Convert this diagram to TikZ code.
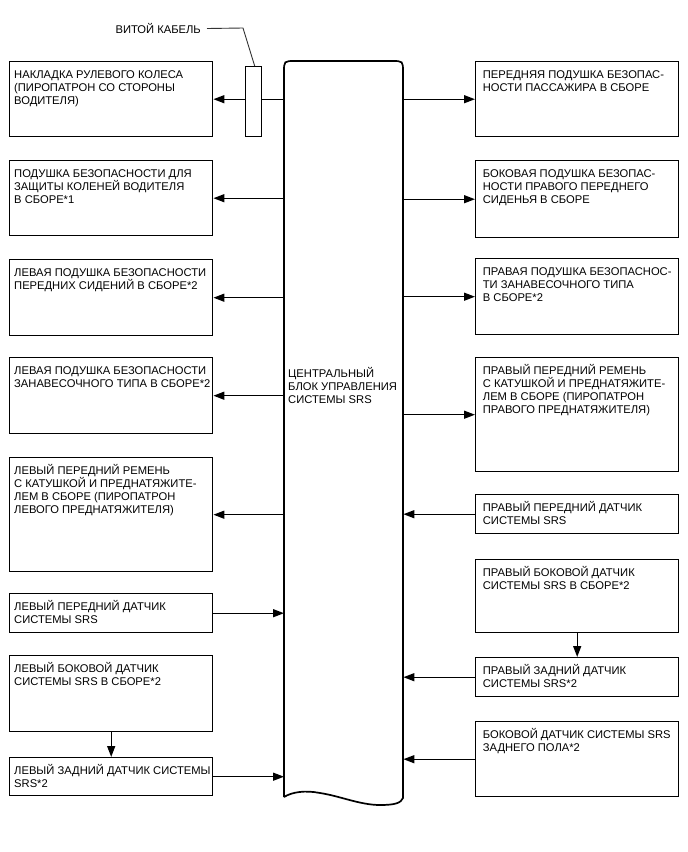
\documentclass[tikz,border=0pt]{standalone}
\usepackage{fontspec}
\setmainfont{Liberation Sans}
\usetikzlibrary{arrows.meta}
\tikzset{
  boxst/.style={draw=black, line width=1.4pt, minimum width=203pt, inner sep=0pt, fill=white},
  lbl/.style={anchor=north west, align=left, inner sep=0pt, font=\fontsize{11.2}{13}\selectfont},
  arr/.style={line width=1.4pt, -{Triangle[length=11pt,width=8pt]}},
  eculine/.style={line width=1.7pt},
  leader/.style={line width=0.9pt, draw=black!80},
}
\newcommand\bx[6]{%
  \node[boxst,minimum height=#4pt,anchor=north west] (#1) at (#2,#3) {};
  \node[lbl] (#1t) at ([shift={(#5pt,-7.3pt)}]#1.north west) {\rule{0pt}{10pt}#6};}
\begin{document}
\begin{tikzpicture}[x=1pt,y=-1pt]
\useasboundingbox[fill=white] (0,0) rectangle (688,852);
% central block
\node[draw=none, minimum width=119pt, minimum height=737pt, anchor=north west, inner sep=0pt] (ecu) at (284,61) {};
\draw[eculine] (284,797) -- (284,72) .. controls (284,61) and (284,61) .. (295,61) -- (392,61)
  .. controls (403,61) and (403,61) .. (403,72) -- (403,798)
  .. controls (401,803) and (395,805) .. (380,805)
  .. controls (360,805) and (340,796) .. (320,793)
  .. controls (305,790) and (292,792) .. (284,797);
\node[lbl] (ecut) at (288,367.5) {\rule{0pt}{10pt}ЦЕНТРАЛЬНЫЙ\\БЛОК УПРАВЛЕНИЯ\\СИСТЕМЫ SRS};
% left boxes
\bx{l1}{9}{61}{75}{5}{НАКЛАДКА РУЛЕВОГО КОЛЕСА\\(ПИРОПАТРОН СО СТОРОНЫ\\ВОДИТЕЛЯ)}
\bx{l2}{9}{160}{75}{5}{ПОДУШКА БЕЗОПАСНОСТИ ДЛЯ\\ЗАЩИТЫ КОЛЕНЕЙ ВОДИТЕЛЯ\\В СБОРЕ*1}
\bx{l3}{9}{259}{76}{5}{ЛЕВАЯ ПОДУШКА БЕЗОПАСНОСТИ\\ПЕРЕДНИХ СИДЕНИЙ В СБОРЕ*2}
\bx{l4}{9}{357}{76}{5}{ЛЕВАЯ ПОДУШКА БЕЗОПАСНОСТИ\\ЗАНАВЕСОЧНОГО ТИПА В СБОРЕ*2}
\bx{l5}{9}{457}{114}{5}{ЛЕВЫЙ ПЕРЕДНИЙ РЕМЕНЬ\\С КАТУШКОЙ И ПРЕДНАТЯЖИТЕ-\\ЛЕМ В СБОРЕ (ПИРОПАТРОН\\ЛЕВОГО ПРЕДНАТЯЖИТЕЛЯ)}
\bx{l6}{9}{593}{39}{5}{ЛЕВЫЙ ПЕРЕДНИЙ ДАТЧИК\\СИСТЕМЫ SRS}
\bx{l7}{9}{655}{76}{5}{ЛЕВЫЙ БОКОВОЙ ДАТЧИК\\СИСТЕМЫ SRS В СБОРЕ*2}
\bx{l8}{9}{757}{38}{5}{ЛЕВЫЙ ЗАДНИЙ ДАТЧИК СИСТЕМЫ\\SRS*2}
% right boxes
\bx{r1}{475}{61}{75}{7.7}{ПЕРЕДНЯЯ ПОДУШКА БЕЗОПАС-\\НОСТИ ПАССАЖИРА В СБОРЕ}
\bx{r2}{475}{160}{77}{7.7}{БОКОВАЯ ПОДУШКА БЕЗОПАС-\\НОСТИ ПРАВОГО ПЕРЕДНЕГО\\СИДЕНЬЯ В СБОРЕ}
\bx{r3}{475}{258}{76}{7.7}{ПРАВАЯ ПОДУШКА БЕЗОПАСНОС-\\ТИ ЗАНАВЕСОЧНОГО ТИПА\\В СБОРЕ*2}
\bx{r4}{475}{357}{114}{7.7}{ПРАВЫЙ ПЕРЕДНИЙ РЕМЕНЬ\\С КАТУШКОЙ И ПРЕДНАТЯЖИТЕ-\\ЛЕМ В СБОРЕ (ПИРОПАТРОН\\ПРАВОГО ПРЕДНАТЯЖИТЕЛЯ)}
\bx{r5}{475}{494}{39}{7.7}{ПРАВЫЙ ПЕРЕДНИЙ ДАТЧИК\\СИСТЕМЫ SRS}
\bx{r6}{475}{559}{73}{7.7}{ПРАВЫЙ БОКОВОЙ ДАТЧИК\\СИСТЕМЫ SRS В СБОРЕ*2}
\bx{r7}{475}{657}{39}{7.7}{ПРАВЫЙ ЗАДНИЙ ДАТЧИК\\СИСТЕМЫ SRS*2}
\bx{r8}{475}{721}{75}{7.7}{БОКОВОЙ ДАТЧИК СИСТЕМЫ SRS\\ЗАДНЕГО ПОЛА*2}
% connectors left
\foreach \b in {l1,l2,l3,l4,l5} \draw[arr] (ecu.west |- \b.east) -- (\b.east);
\foreach \b in {l6,l8} \draw[arr] (\b.east) -- (ecu.west |- \b.east);
\draw[arr] (l7.south) -- (l8.north);
% connectors right
\foreach \b in {r1,r2,r3,r4} \draw[arr] (ecu.east |- \b.west) -- (\b.west);
\foreach \b in {r5,r7,r8} \draw[arr] (\b.west) -- (ecu.east |- \b.west);
\draw[arr] (r6.south) -- (r7.north);
% spiral cable
\node[draw=black, line width=1.4pt, fill=white, minimum width=16pt, minimum height=70pt, inner sep=0pt, anchor=north west] (cable) at (245,66) {};
\node[font=\fontsize{11.2}{13}\selectfont, anchor=east, inner sep=0pt] (cablelbl) at (201,28.5) {ВИТОЙ КАБЕЛЬ};
\coordinate (bend) at (243,28);
\draw[leader] ([xshift=6pt]cablelbl.east) -- (bend) -- ([xshift=1pt]cable.north);
\end{tikzpicture}
\end{document}
